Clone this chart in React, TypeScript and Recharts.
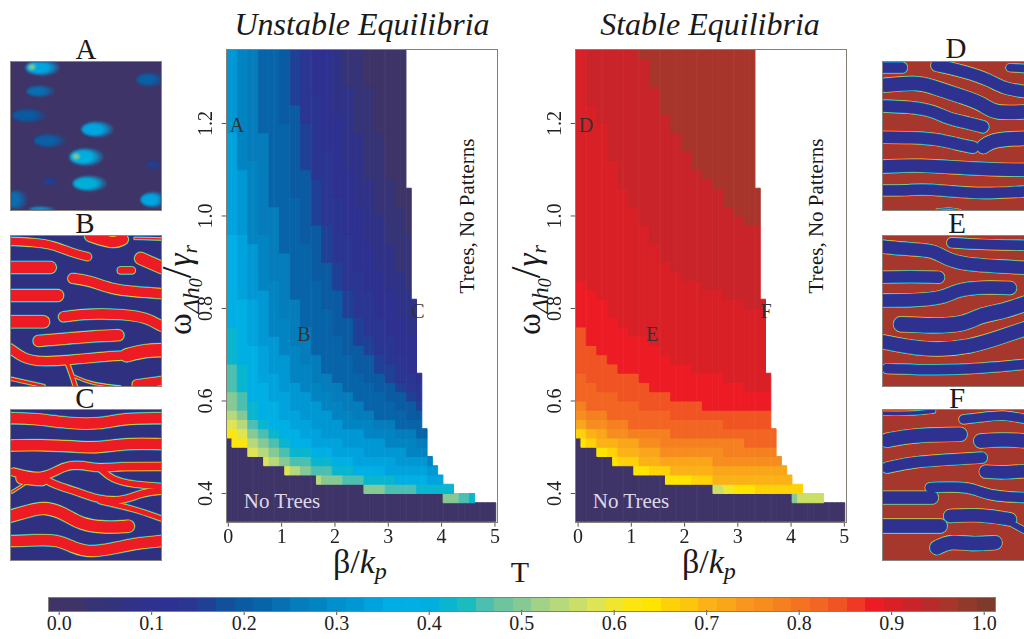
import { Bar, BarChart, Line, ComposedChart, Scatter, XAxis, YAxis } from 'recharts';

const SERIF = '"Liberation Serif", serif';

// colour bar bands, T = 0.00, 0.02 ... 1.00
const colorBands = [
  '#3f3468', '#3e3468', '#363476', '#33337c', '#2f3287', '#2e3190', '#2d3192', '#2a3692', '#1f4096', '#13509c',
  '#0b5ba3', '#0864a9', '#0670b2', '#057cbb', '#0284c2', '#0090cd', '#0098d4', '#00a3dd', '#00ade4', '#00afe4',
  '#00afde', '#09b5cf', '#1bbcc0', '#4dbfb0', '#6fc4a0', '#87c994', '#a2d288', '#b6d97c', '#cbdf68', '#dfe455',
  '#f0e62e', '#fbe70f', '#ffe400', '#ffd208', '#fdc60e', '#fbb216', '#faa61a', '#f8961e', '#f78d1f', '#f58020',
  '#f37321', '#f26522', '#f05423', '#ee3a24', '#ed1c24', '#d92027', '#c8242a', '#b82a2c', '#a8352c', '#91392b',
  '#7e3a2c',
];
const colorTicks = [0, 0.1, 0.2, 0.3, 0.4, 0.5, 0.6, 0.7, 0.8, 0.9, 1];

const betaTicks = [0, 1, 2, 3, 4, 5];
const omegaTicks = [0.4, 0.6, 0.8, 1.0, 1.2];

// omega of the No Trees edge, one per beta column
const noTreesEdge = [
  0.52, 0.5, 0.5, 0.5, 0.48, 0.48, 0.48, 0.46, 0.46, 0.46, 0.46, 0.44, 0.44, 0.44, 0.44, 0.44, 0.44,
  0.42, 0.42, 0.42, 0.42, 0.42, 0.42, 0.42, 0.42, 0.42, 0.4, 0.4, 0.4, 0.4, 0.4, 0.4, 0.4, 0.4,
  0.4, 0.4, 0.4, 0.4, 0.4, 0.4, 0.4, 0.38, 0.38, 0.38, 0.38, 0.38, 0.38, 0.38, 0.38, 0.38, 0.38,
];
// omega where the white "Trees, No Patterns" area begins, one per beta column
const patternTop = [
  1.36, 1.36, 1.36, 1.36, 1.36, 1.36, 1.36, 1.36, 1.36, 1.36, 1.36, 1.36, 1.36, 1.36, 1.36, 1.36, 1.36,
  1.36, 1.36, 1.36, 1.36, 1.36, 1.36, 1.36, 1.36, 1.36, 1.36, 1.36, 1.36, 1.36, 1.36, 1.36, 1.36, 1.36,
  1.06, 0.82, 0.66, 0.54, 0.48, 0.46, 0.44, 0.42, 0.42, 0.4, 0.4, 0.4, 0.4, 0.38, 0.38, 0.38, 0.38,
];

// contours of T, omega read at beta = 0, 0.2, ... 5.0
const unstableLevels = [0.6, 0.56, 0.52, 0.48, 0.44, 0.4, 0.36, 0.33, 0.3, 0.27, 0.24, 0.21, 0.18, 0.15, 0.12, 0.09, 0.06, 0.03];
const unstableContours = [
  [.54, .52, .36, .36, .36, .36, .36, .36, .36, .36, .36, .36, .36, .36, .36, .36, .36, .36, .36, .36, .36, .36, .36, .36, .36, .36],
  [.56, .54, .5, .48, .46, .46, .44, .36, .36, .36, .36, .36, .36, .36, .36, .36, .36, .36, .36, .36, .36, .36, .36, .36, .36, .36],
  [.58, .56, .52, .5, .48, .46, .46, .44, .44, .42, .42, .36, .36, .36, .36, .36, .36, .36, .36, .36, .36, .36, .36, .36, .36, .36],
  [.62, .58, .54, .52, .5, .48, .46, .46, .44, .44, .44, .42, .42, .42, .42, .4, .4, .4, .4, .4, .4, .4, .38, .38, .38, .38],
  [.68, .62, .56, .54, .52, .5, .48, .48, .46, .46, .44, .44, .44, .42, .42, .42, .42, .42, .4, .4, .4, .4, .4, .38, .38, .38],
  [.76, .68, .6, .56, .54, .52, .5, .5, .48, .48, .46, .46, .44, .44, .44, .44, .42, .42, .42, .42, .42, .42, .4, .4, .38, .38],
  [.96, .82, .72, .64, .6, .56, .54, .52, .5, .5, .48, .48, .46, .46, .46, .44, .44, .44, .44, .42, .42, .42, .4, .4, .38, .38],
  [1.18, .96, .82, .72, .66, .62, .58, .56, .54, .52, .52, .5, .5, .48, .48, .48, .46, .46, .46, .44, .44, .42, .4, .4, .38, .38],
  [1.4, 1.1, .94, .84, .74, .7, .64, .62, .6, .58, .56, .54, .54, .52, .52, .5, .5, .48, .48, .46, .44, .42, .4, .4, .38, .38],
  [1.6, 1.4, 1.12, .96, .86, .78, .72, .68, .64, .62, .6, .58, .56, .56, .54, .54, .52, .52, .5, .5, 1.6, 1.6, 1.6, 1.6, 1.6, 1.6],
  [1.6, 1.6, 1.42, 1.18, 1.02, .92, .82, .76, .7, .66, .64, .62, .6, .58, .56, .56, .54, .54, .52, .52, 1.6, 1.6, 1.6, 1.6, 1.6, 1.6],
  [1.6, 1.6, 1.6, 1.48, 1.38, 1.2, 1.04, .94, .86, .8, .74, .7, .66, .64, .62, .6, .58, .56, .56, .54, 1.6, 1.6, 1.6, 1.6, 1.6, 1.6],
  [1.6, 1.6, 1.6, 1.6, 1.6, 1.42, 1.24, 1.1, .98, .9, .84, .78, .72, .7, .66, .64, .62, .6, .58, .56, 1.6, 1.6, 1.6, 1.6, 1.6, 1.6],
  [1.6, 1.6, 1.6, 1.6, 1.6, 1.6, 1.36, 1.2, 1.08, .98, .9, .84, .78, .74, .7, .68, .64, .62, .6, .58, 1.6, 1.6, 1.6, 1.6, 1.6, 1.6],
  [1.6, 1.6, 1.6, 1.6, 1.6, 1.6, 1.6, 1.42, 1.26, 1.14, 1.04, .96, .88, .84, .78, .74, .7, .66, .64, .62, 1.6, 1.6, 1.6, 1.6, 1.6, 1.6],
  [1.6, 1.6, 1.6, 1.6, 1.6, 1.6, 1.6, 1.6, 1.6, 1.36, 1.22, 1.1, 1.02, .94, .88, .84, .78, .74, .7, .66, 1.6, 1.6, 1.6, 1.6, 1.6, 1.6],
  [1.6, 1.6, 1.6, 1.6, 1.6, 1.6, 1.6, 1.6, 1.6, 1.6, 1.42, 1.28, 1.18, 1.08, 1, .94, .88, .84, .78, .74, 1.6, 1.6, 1.6, 1.6, 1.6, 1.6],
  [1.6, 1.6, 1.6, 1.6, 1.6, 1.6, 1.6, 1.6, 1.6, 1.6, 1.6, 1.6, 1.42, 1.28, 1.18, 1.08, 1.02, .96, .9, .84, 1.6, 1.6, 1.6, 1.6, 1.6, 1.6],
];

const stableLevels = [0.52, 0.58, 0.62, 0.65, 0.68, 0.71, 0.74, 0.77, 0.8, 0.83, 0.855, 0.885, 0.91, 0.95];
const stableContours = [
  [.36, .36, .36, .36, .36, .36, .36, .36, .36, .36, .36, .36, .36, .36, .36, .36, .36, .36, .36, .36, .4, .36, .36, .36, .36, .36],
  [.36, .36, .36, .36, .36, .36, .36, .36, .36, .36, .36, .36, .36, .42, .36, .36, .36, .36, .36, .36, .4, .4, .4, .4, .36, .36],
  [.36, .36, .36, .36, .36, .36, .36, .36, .36, .36, .36, .36, .36, .42, .42, .36, .36, .36, .36, .36, .4, .4, .4, .4, .36, .36],
  [.52, .5, .5, .48, .46, .46, .46, .44, .44, .44, .44, .42, .42, .42, .42, .42, .42, .4, .4, .4, .4, .4, .4, .4, .38, .38],
  [.54, .52, .5, .5, .48, .48, .46, .46, .46, .44, .44, .44, .44, .42, .42, .42, .42, .42, .42, .42, .42, .42, .4, .4, .38, .38],
  [.54, .54, .52, .52, .5, .5, .48, .48, .46, .46, .46, .46, .46, .44, .44, .44, .44, .44, .44, .44, .44, .42, .4, .4, .38, .38],
  [.56, .54, .54, .52, .52, .52, .5, .5, .48, .48, .48, .48, .48, .46, .46, .46, .46, .46, .46, .46, .44, .42, .4, .4, .38, .38],
  [.58, .56, .56, .54, .54, .52, .52, .52, .5, .5, .5, .5, .5, .5, .48, .48, .48, .48, .48, .48, .46, .42, .4, .4, .38, .38],
  [.6, .58, .58, .56, .56, .54, .54, .54, .54, .52, .52, .52, .52, .52, .52, .52, .5, .5, .5, .5, .6, .6, .6, .6, .6, .6],
  [.66, .64, .62, .62, .6, .6, .58, .58, .58, .56, .56, .56, .56, .56, .54, .54, .54, .54, .54, .54, .6, .6, .6, .6, .6, .6],
  [.76, .72, .7, .68, .66, .66, .64, .62, .62, .6, .6, .6, .58, .58, .58, .58, .58, .58, .58, .58, .6, .6, .6, .6, .6, .6],
  [.86, .84, .82, .78, .76, .74, .74, .72, .7, .68, .68, .66, .66, .66, .64, .64, .62, .62, .62, .62, .62, .62, .62, .62, .62, .62],
  [1.6, 1.24, 1.2, 1.12, 1.06, 1.02, .98, .94, .9, .88, .86, .86, .84, .84, .82, .82, .8, .8, .78, .78, 1.6, 1.6, 1.6, 1.6, 1.6, 1.6],
  [1.6, 1.6, 1.6, 1.6, 1.6, 1.6, 1.34, 1.28, 1.22, 1.18, 1.14, 1.1, 1.08, 1.06, 1.02, 1, .98, .98, .98, .98, 1.6, 1.6, 1.6, 1.6, 1.6, 1.6],
];

type Pts = [number, number][];

// blobs of panel A
const blobCenters: Pts = [[120, 112], [115, 183], [80, 256], [285, 298], [142, 332], [252, 381], [262, 461], [150, 455], [45, 510], [120, 540], [445, 148], [460, 405], [455, 510]];
const blobRadii: Pts = [[17, 8], [14, 6], [17, 7], [16, 8], [16, 7], [17, 9], [17, 8], [6, 4], [10, 10], [13, 3], [14, 7], [7, 4], [13, 8]];
const blobColors = ['#00a5df', '#0a6db0', '#0a5aa0', '#00a5df', '#0a5fa5', '#00aee0', '#00afd8', '#1f4096', '#0a6db0', '#00a5df', '#0a5fa5', '#1f4096', '#00a5df'];
const blobHotspots: Pts = [[95, 110], [228, 380]];

// stripes of the pattern panels, read in crop pixels
const stripesB: Pts[] = [
  [[30, 94], [100, 97], [160, 105], [210, 127], [262, 140]],
  [[270, 78], [340, 102], [368, 88]],
  [[405, 85], [483, 87]],
  [[30, 172], [150, 172]],
  [[362, 181], [395, 181]],
  [[422, 145], [484, 172]],
  [[218, 205], [270, 212], [330, 236], [400, 245], [484, 250]],
  [[30, 256], [172, 256]],
  [[190, 320], [260, 310], [370, 312], [440, 322], [484, 348]],
  [[30, 335], [130, 335]],
  [[115, 392], [200, 385], [280, 378], [355, 375]],
  [[30, 415], [70, 445], [120, 455], [200, 450], [300, 440], [380, 435]],
  [[380, 435], [440, 420], [484, 420]],
  [[200, 455], [215, 495], [225, 527]],
  [[30, 505], [130, 527]],
  [[220, 497], [270, 520], [360, 530]],
  [[410, 522], [484, 512]],
];
const widthsB = [10, 13, 4, 14, 9, 14, 12, 14, 12, 14, 13, 11, 15, 6, 5, 4, 11];

const stripesC: Pts[] = [
  [[30, 100], [100, 100], [200, 115], [300, 118], [370, 100], [484, 100]],
  [[30, 182], [120, 180], [230, 185], [290, 190], [380, 175], [484, 178]],
  [[40, 262], [130, 285], [190, 242], [240, 240], [300, 252], [350, 245], [484, 245]],
  [[130, 280], [160, 300], [230, 320], [290, 345], [370, 350], [420, 325], [484, 318]],
  [[65, 280], [125, 285]],
  [[35, 322], [70, 300]],
  [[300, 252], [335, 285], [400, 300], [484, 305]],
  [[30, 395], [90, 378], [130, 367], [190, 385], [240, 420], [320, 430], [385, 425]],
  [[300, 350], [400, 372], [484, 402]],
  [[30, 470], [100, 468], [170, 465], [220, 490], [270, 505], [350, 490], [420, 475], [484, 470]],
];
const widthsC = [13, 13, 10, 9, 14, 4, 8, 14, 7, 13];

const stripesD: Pts[] = [
  [[36, 112], [95, 112]],
  [[200, 105], [290, 125], [360, 150], [400, 175], [470, 185]],
  [[420, 112], [470, 115]],
  [[45, 165], [150, 155], [200, 175], [280, 200], [340, 222], [370, 250], [470, 245]],
  [[36, 228], [120, 230], [190, 242], [230, 265], [300, 280], [338, 290]],
  [[36, 322], [120, 322], [200, 327], [260, 342], [308, 352]],
  [[340, 350], [370, 328], [470, 325]],
  [[36, 410], [150, 405], [280, 415], [400, 420], [470, 420]],
  [[36, 482], [110, 482], [150, 478], [230, 483], [300, 490], [380, 490], [470, 485]],
  [[200, 540], [240, 535], [270, 542]],
];
const widthsD = [13, 14, 10, 16, 14, 14, 16, 15, 13, 3];

const stripesE: Pts[] = [
  [[245, 100], [320, 105], [470, 108]],
  [[36, 112], [120, 120], [190, 122], [230, 150], [290, 165], [380, 170], [470, 175]],
  [[36, 203], [120, 200], [205, 203]],
  [[36, 272], [130, 272], [220, 265], [260, 240], [340, 232], [420, 235]],
  [[92, 343], [180, 347], [280, 345], [330, 315], [400, 305], [470, 280]],
  [[36, 395], [110, 410], [200, 420], [300, 410], [380, 385], [470, 355]],
  [[50, 475], [200, 480], [330, 475], [470, 462]],
];
const widthsE = [12, 15, 14, 15, 17, 16, 12];

const stripesF: Pts[] = [
  [[36, 87], [130, 88], [190, 80]],
  [[280, 105], [330, 100], [400, 90], [470, 105]],
  [[50, 168], [130, 152], [270, 150]],
  [[332, 170], [400, 165], [470, 170]],
  [[50, 250], [130, 232], [250, 225], [335, 220]],
  [[347, 262], [400, 265], [470, 260]],
  [[36, 340], [120, 340], [185, 340]],
  [[180, 310], [300, 305], [350, 335], [470, 340]],
  [[240, 395], [330, 390], [420, 405]],
  [[430, 420], [470, 442]],
  [[36, 425], [120, 425], [210, 425]],
  [[200, 490], [240, 470], [300, 480], [375, 475]],
];
const widthsF = [6, 11, 16, 16, 13, 15, 15, 12, 15, 8, 16, 16];

// turn contour lists into a stacked-bar table, one row per beta column
function buildColumns(contours: number[][]) {
  return noTreesEdge.map((base, k) => {
    const row: Record<string, number> = { column: k, beta: k / 10, base };
    const top = patternTop[k];
    const sample = Math.min(25, Math.floor(k / 2));
    let prev = base;
    contours.forEach((c, i) => {
      const edge = Math.max(prev, Math.min(top, c[sample]));
      row[`band${i}`] = edge - prev;
      prev = edge;
    });
    row[`band${contours.length}`] = top - prev;
    return row;
  });
}

const colorAt = (t: number) => colorBands[Math.round(t / 0.02)];

// colours from the band below the first level up to the band above the last one
function bandColors(levels: number[], firstT: number, lastT: number) {
  return [...levels, lastT].map((l, i) => {
    if (i === 0) return colorAt(firstT);
    if (i === levels.length) return colorAt(lastT);
    return colorAt((levels[i - 1] + levels[i]) / 2);
  });
}

const RotatedTick = ({ x, y, payload }: any) => (
  <text
    x={x - 8}
    y={y}
    textAnchor="middle"
    transform={`rotate(-90 ${x - 8} ${y})`}
    fontFamily={SERIF}
    fontSize={20}
    fill="#222"
  >
    {Number(payload.value).toFixed(1)}
  </text>
);

function HeatPanel({ left, betaDomain, contours, colors }: { left: number; betaDomain: number[]; contours: number[][]; colors: string[] }) {
  const rows = buildColumns(contours);
  return (
    <div style={{ position: 'absolute', left, top: 30, filter: 'blur(0.35px)' }}>
      <BarChart
        width={340}
        height={540}
        data={rows}
        barCategoryGap={0}
        barGap={0}
        margin={{ top: 19, right: 14, bottom: 20.3, left: 26.7 }}
      >
        <XAxis xAxisId="band" dataKey="column" type="category" hide height={0} />
        <XAxis
          xAxisId="beta"
          dataKey="beta"
          type="number"
          domain={betaDomain}
          allowDataOverflow
          ticks={betaTicks}
          interval={0}
          height={28}
          axisLine={false}
          tickSize={5}
          tickMargin={2}
          tickLine={{ stroke: '#555' }}
          tick={{ fontFamily: SERIF, fontSize: 20, fill: '#222' }}
        />
        <YAxis
          type="number"
          domain={[0.339, 1.361]}
          allowDataOverflow
          ticks={omegaTicks}
          interval={0}
          width={30}
          axisLine={false}
          tickSize={5}
          tickLine={{ stroke: '#555' }}
          tick={RotatedTick}
        />
        <Bar xAxisId="band" dataKey="base" stackId="t" fill={colorBands[0]} stroke={colorBands[0]} strokeWidth={1} isAnimationActive={false} />
        {colors.map((c, i) => (
          <Bar
            key={i}
            xAxisId="band"
            dataKey={`band${i}`}
            stackId="t"
            fill={c}
            stroke={c}
            strokeWidth={1}
            isAnimationActive={false}
          />
        ))}
      </BarChart>
    </div>
  );
}

function StripePanel({ left, top, width, height, xDomain, yDomain, background, passes, stripes, widths }: any) {
  const lines = passes.flatMap((p: { color: string; inset: number }, pi: number) =>
    stripes.map((pts: Pts, si: number) => (
      <Line
        key={`${pi}-${si}`}
        data={pts.map(([x, y]) => ({ x, y }))}
        dataKey="y"
        type="basis"
        dot={false}
        stroke={p.color}
        strokeWidth={Math.max(0.6, widths[si] - p.inset)}
        strokeLinecap="round"
        strokeLinejoin="round"
        isAnimationActive={false}
      />
    )),
  );
  return (
    <div style={{ position: 'absolute', left, top, width, height, background, overflow: 'hidden', outline: '1px solid #8a8580' }}>
      <div style={{ filter: 'blur(0.5px)' }}>
        <ComposedChart width={width} height={height} margin={{ top: 0, right: 0, bottom: 0, left: 0 }}>
          <XAxis dataKey="x" type="number" domain={xDomain} allowDataOverflow hide />
          <YAxis type="number" domain={yDomain} reversed allowDataOverflow hide />
          {lines}
        </ComposedChart>
      </div>
    </div>
  );
}

const BlobShape = ({ cx, cy, index }: any) => {
  const [rx, ry] = blobRadii[index];
  const color = blobColors[index];
  return (
    <g>
      <ellipse cx={cx + 2} cy={cy} rx={rx} ry={ry} fill={color} opacity={0.35} />
      <ellipse cx={cx} cy={cy} rx={rx * 0.85} ry={ry * 0.85} fill={color} opacity={0.6} />
      <ellipse cx={cx - 2} cy={cy} rx={rx * 0.7} ry={ry * 0.72} fill={color} />
    </g>
  );
};
const HotShape = ({ cx, cy }: any) => <ellipse cx={cx} cy={cy} rx={3.5} ry={3} fill="#7cc598" />;

const PANEL_X = [32, 483];
const toXY = (pts: Pts) => pts.map(([x, y]) => ({ x, y }));

const redOnBlue = [
  { color: '#00aee0', inset: 0 },
  { color: '#fbe01a', inset: 1.2 },
  { color: '#ed1c24', inset: 2.4 },
];
const blueOnBrown = [
  { color: '#ed1c24', inset: 0 },
  { color: '#fbe01a', inset: 0.7 },
  { color: '#00aee0', inset: 1.4 },
  { color: '#2e3190', inset: 2.6 },
];

const OmegaLabel = ({ x }: { x: number }) => (
  <text x={x} y={335} fontSize={33} transform={`rotate(-90 ${x} 335)`}>
    ω
    <tspan fontSize={24} dy={8} fontStyle="italic">Δh</tspan>
    <tspan fontSize={18} dy={3} fontStyle="italic">0</tspan>
    <tspan fontSize={42} dy={-11}>/</tspan>
    <tspan fontSize={33} fontStyle="italic">γ</tspan>
    <tspan fontStyle="italic" fontSize={22} dy={6}>r</tspan>
  </text>
);

const BetaLabel = ({ x }: { x: number }) => (
  <text x={x} y={573} fontSize={34}>
    β<tspan>/</tspan>
    <tspan fontStyle="italic">k</tspan>
    <tspan fontStyle="italic" fontSize={24} dy={6}>p</tspan>
  </text>
);

export default function App() {
  const unstableColors = bandColors(unstableLevels, 0.62, 0.01);
  const stableColors = bandColors(stableLevels, 0.5, 0.96);
  return (
    <div style={{ position: 'absolute', left: 0, top: 0, width: 1024, height: 639, background: '#fff', overflow: 'hidden' }}>
      {/* panel A */}
      <div style={{ position: 'absolute', left: 11, top: 62, width: 150, height: 148, background: '#3e3468', overflow: 'hidden', outline: '1px solid #8a8580' }}>
        <div style={{ filter: 'blur(1.3px)' }}>
          <ComposedChart width={150} height={148} margin={{ top: 0, right: 0, bottom: 0, left: 0 }}>
            <XAxis dataKey="x" type="number" domain={PANEL_X} allowDataOverflow hide />
            <YAxis dataKey="y" type="number" domain={[95, 541]} reversed allowDataOverflow hide />
            <Scatter data={toXY(blobCenters)} shape={BlobShape} isAnimationActive={false} />
            <Scatter data={toXY(blobHotspots)} shape={HotShape} isAnimationActive={false} />
          </ComposedChart>
        </div>
      </div>

      <StripePanel left={11} top={236} width={150} height={150} xDomain={PANEL_X} yDomain={[78, 527]} background="#2f3180" passes={redOnBlue} stripes={stripesB} widths={widthsB} />
      <StripePanel left={11} top={410} width={150} height={150} xDomain={PANEL_X} yDomain={[75, 527]} background="#2f3180" passes={redOnBlue} stripes={stripesC} widths={widthsC} />
      <StripePanel left={883} top={62} width={141} height={148} xDomain={[38, 462]} yDomain={[95, 541]} background="#a5372c" passes={blueOnBrown} stripes={stripesD} widths={widthsD} />
      <StripePanel left={883} top={236} width={141} height={150} xDomain={[38, 462]} yDomain={[80, 527]} background="#a5372c" passes={blueOnBrown} stripes={stripesE} widths={widthsE} />
      <StripePanel left={883} top={410} width={141} height={150} xDomain={[38, 462]} yDomain={[77, 527]} background="#a5372c" passes={blueOnBrown} stripes={stripesF} widths={widthsF} />

      <HeatPanel left={170} betaDomain={[-0.03, 5.02]} contours={unstableContours} colors={unstableColors} />
      <HeatPanel left={518.6} betaDomain={[-0.045, 5.013]} contours={stableContours} colors={stableColors} />
      <div style={{ position: 'absolute', left: 226, top: 48.5, width: 269.5, height: 472.5, border: '1px solid #857f78' }} />
      <div style={{ position: 'absolute', left: 575, top: 48.5, width: 269.5, height: 472.5, border: '1px solid #857f78' }} />

      {/* colour bar */}
      <div style={{ position: 'absolute', left: 28.7, top: 590 }}>
        <BarChart
          width={986.3}
          height={49}
          layout="vertical"
          stackOffset="sign"
          data={[Object.fromEntries([['row', 'T'], ['under', -0.011], ...colorBands.map((_, i) => [`c${i}`, i === 0 ? 0.009 : 0.02006])])]}
          barCategoryGap={0}
          margin={{ top: 7.5, right: 20, bottom: 0, left: 20 }}
        >
          <YAxis type="category" dataKey="row" hide />
          <XAxis
            type="number"
            domain={[-0.011, 1.012]}
            allowDataOverflow
            ticks={colorTicks}
            interval={0}
            height={29}
            axisLine={false}
            tickSize={5}
            tickMargin={1}
            tickLine={{ stroke: '#555' }}
            tick={{ fontFamily: SERIF, fontSize: 20, fill: '#222' }}
            tickFormatter={(v: number) => v.toFixed(1)}
          />
          <Bar dataKey="under" stackId="c" fill={colorBands[0]} shapeRendering="crispEdges" isAnimationActive={false} />
          {colorBands.map((c, i) => (
            <Bar key={c} dataKey={`c${i}`} stackId="c" fill={c} shapeRendering="crispEdges" isAnimationActive={false} />
          ))}
        </BarChart>
      </div>
      <div style={{ position: 'absolute', left: 48.2, top: 597, width: 946, height: 12.5, border: '1px solid #857f78' }} />

      {/* all the words and symbols */}
      <svg width={1024} height={639} style={{ position: 'absolute', left: 0, top: 0, pointerEvents: 'none' }} fontFamily={SERIF} fill="#1a1a1a">
        <text x={362} y={35} textAnchor="middle" fontSize={32} fontStyle="italic">Unstable Equilibria</text>
        <text x={710} y={35} textAnchor="middle" fontSize={32} fontStyle="italic">Stable Equilibria</text>

        <text x={86} y={59} textAnchor="middle" fontSize={29}>A</text>
        <text x={85} y={233} textAnchor="middle" fontSize={29}>B</text>
        <text x={85} y={408} textAnchor="middle" fontSize={29}>C</text>
        <text x={956} y={58} textAnchor="middle" fontSize={29}>D</text>
        <text x={957} y={233} textAnchor="middle" fontSize={29}>E</text>
        <text x={957} y={408} textAnchor="middle" fontSize={29}>F</text>

        <g fontSize={20} fill="#333" textAnchor="middle">
          <text x={237} y={132}>A</text>
          <text x={304} y={341}>B</text>
          <text x={418} y={318}>C</text>
          <text x={586} y={132}>D</text>
          <text x={652} y={341}>E</text>
          <text x={766} y={318}>F</text>
        </g>

        <text x={474} y={216} textAnchor="middle" fontSize={21} transform="rotate(-90 474 216)">Trees, No Patterns</text>
        <text x={823} y={216} textAnchor="middle" fontSize={21} transform="rotate(-90 823 216)">Trees, No Patterns</text>
        <text x={282} y={508} textAnchor="middle" fontSize={21} fill="#ddd9e6">No Trees</text>
        <text x={631} y={508} textAnchor="middle" fontSize={21} fill="#ddd9e6">No Trees</text>

        <BetaLabel x={333} />
        <BetaLabel x={682} />
        <text x={520} y={582} textAnchor="middle" fontSize={30}>T</text>

        <OmegaLabel x={191} />
        <OmegaLabel x={540} />
      </svg>
    </div>
  );
}
